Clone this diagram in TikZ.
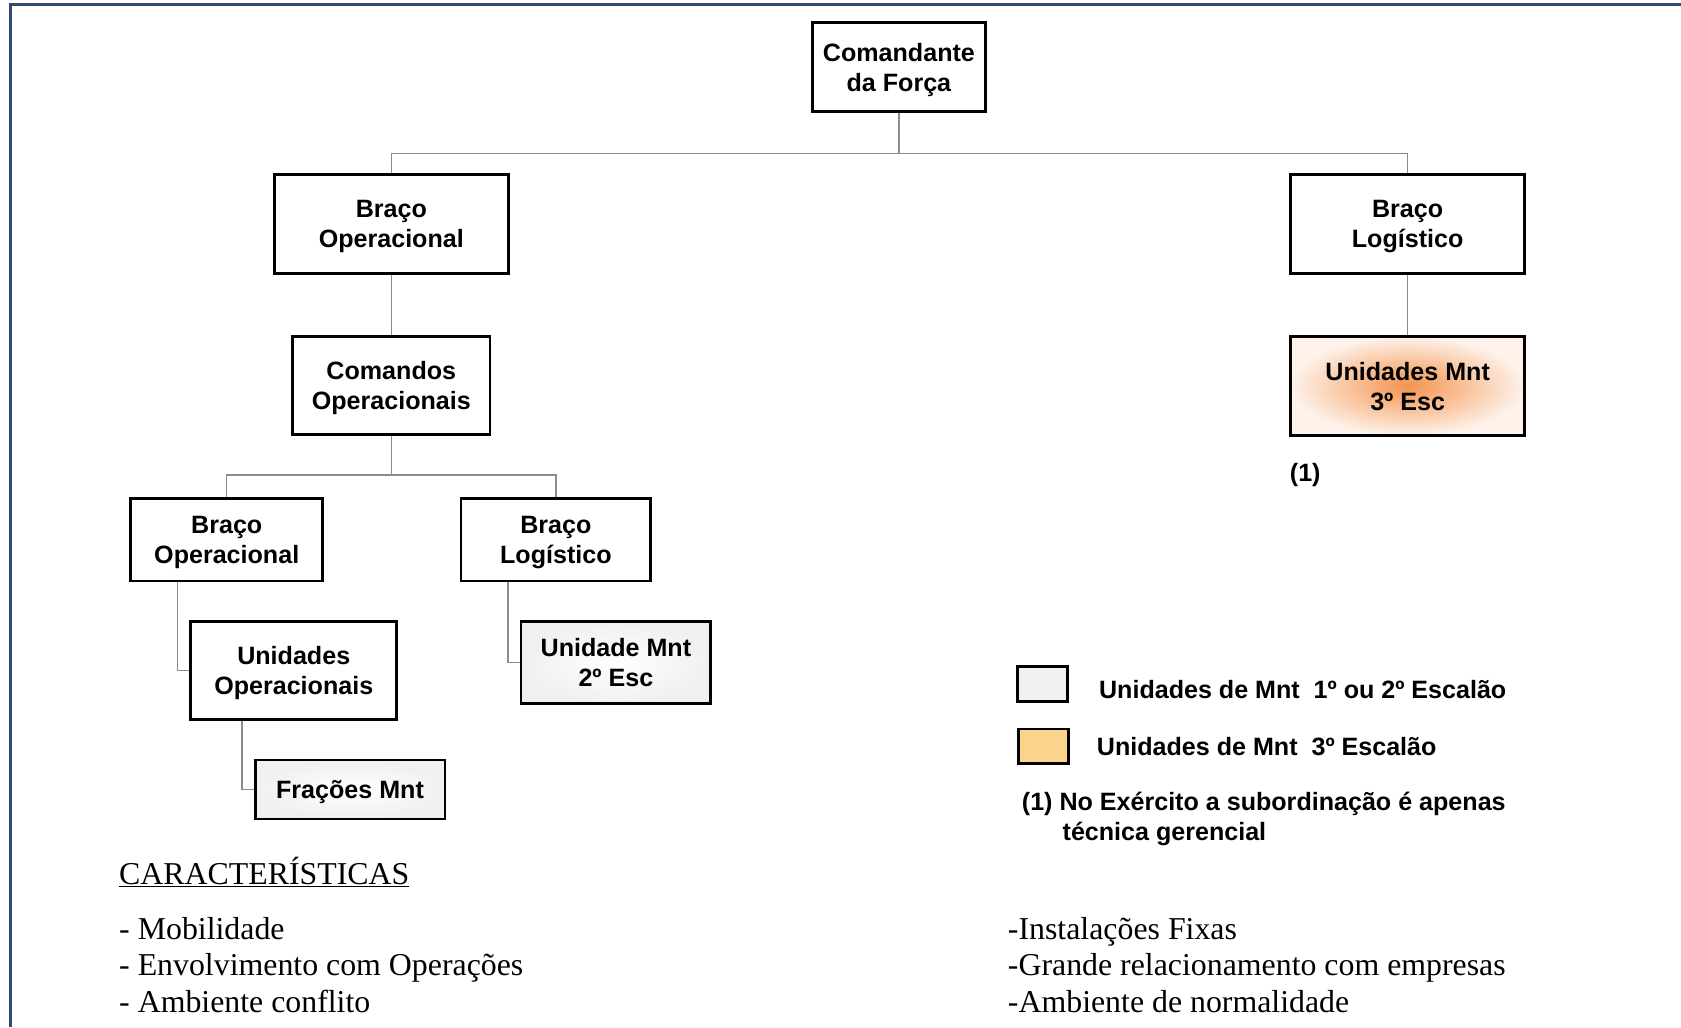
\documentclass[tikz,border=0pt]{standalone}
\usepackage{fontspec}
\setmainfont{Liberation Sans}
\newfontfamily\timesfont{Liberation Serif}
\definecolor{framecol}{RGB}{47,75,110}
\definecolor{linkcol}{RGB}{140,140,140}
\definecolor{mntorange}{RGB}{243,148,78}
\definecolor{legorange}{RGB}{250,212,138}
\definecolor{leggray}{RGB}{240,240,240}
\begin{document}
\begin{tikzpicture}[x=1pt,y=-1pt,
  unit/.style={draw,line width=2.6pt,inner sep=0pt,align=center,text depth=0pt,
    font=\fontsize{23.4}{28}\selectfont\bfseries},
  unitgray/.style={unit,inner color=white,outer color=black!6},
  unitorange/.style={unit,inner color=mntorange,outer color=mntorange!12!white},
  link/.style={draw=linkcol,line width=1.4pt},
  legbox/.style={draw,line width=2.6pt,minimum width=47pt,minimum height=32pt,inner sep=0pt},
  legtext/.style={anchor=west,inner sep=0pt,text depth=0pt,font=\fontsize{23.4}{28}\selectfont\bfseries},
  listtext/.style={anchor=base west,inner sep=0pt,font=\timesfont\fontsize{29.7}{34}\selectfont},
  frame/.style={draw=framecol,line width=3pt}]
\useasboundingbox (0,0) rectangle (1568,958);
\draw[frame] (10,958) -- (10,4.5) -- (1568,4.5);

\node[unit,minimum width=161pt,minimum height=83pt] (cmd) at (838.5,62.5) {Comandante\\da Força};
\node[unit,minimum width=218pt,minimum height=92pt] (bop) at (365,209) {Braço\\Operacional};
\node[unit,minimum width=218pt,minimum height=92pt] (blog) at (1313,209) {Braço\\Logístico};
\node[unit,minimum width=184pt,minimum height=91pt] (cop) at (365,359.5) {Comandos\\Operacionais};
\node[unitorange,minimum width=218pt,minimum height=92pt] (u3) at (1313,360) {Unidades Mnt\\3º Esc};
\node[legtext] (nota) at (1203,441) {(1)};
\node[unit,minimum width=179pt,minimum height=77pt] (bopl) at (211.5,503.5) {Braço\\Operacional};
\node[unit,minimum width=177pt,minimum height=77pt] (blogl) at (518.5,503.5) {Braço\\Logístico};
\node[unit,minimum width=192pt,minimum height=91pt] (uop) at (274,625.5) {Unidades\\Operacionais};
\node[unitgray,minimum width=177pt,minimum height=55pt] (frac) at (326.5,736.5) {Frações Mnt};
\node[unitgray,minimum width=177pt,minimum height=76pt] (u2) at (574.5,618) {Unidade Mnt\\2º Esc};

\coordinate (busA) at (838.5,143);
\coordinate (busB) at (365,443);
\draw[link] (cmd) -- (cmd |- busA);
\draw[link] (bop) |- (busA) -| (blog);
\draw[link] (bop) -- (cop);
\draw[link] (blog) -- (u3);
\draw[link] (cop) -- (cop |- busB);
\draw[link] (bopl) |- (busB) -| (blogl);
\draw[link] ([xshift=45pt]bopl.south west) |- (uop);
\draw[link] ([xshift=49pt]uop.south west) |- (frac);
\draw[link] ([xshift=45pt]blogl.south west) |- (u2);

\node[legbox,fill=leggray] (leg1) at (972.5,638) {};
\node[legbox,fill=legorange] (leg2) at (973.5,696) {};
\node[legtext] (legt1) at (1025,643) {Unidades de Mnt\ \ 1º ou 2º Escalão};
\node[legtext] (legt2) at (1023,696) {Unidades de Mnt\ \ 3º Escalão};
\node[legtext] (note1) at (953,747) {(1) No Exército a subordinação é apenas};
\node[legtext] (note2) at (991,775) {técnica gerencial};

\node[listtext] (carac) at (111,825) {\underline{CARACTERÍSTICAS}};
\node[listtext] (op1) at (111,876) {- Mobilidade};
\node[listtext] (op2) at (111,910) {- Envolvimento com Operações};
\node[listtext] (op3) at (111,944) {- Ambiente conflito};
\node[listtext] (lg1) at (940,876) {-Instalações Fixas};
\node[listtext] (lg2) at (940,910) {-Grande relacionamento com empresas};
\node[listtext] (lg3) at (940,944) {-Ambiente de normalidade};
\end{tikzpicture}
\end{document}
